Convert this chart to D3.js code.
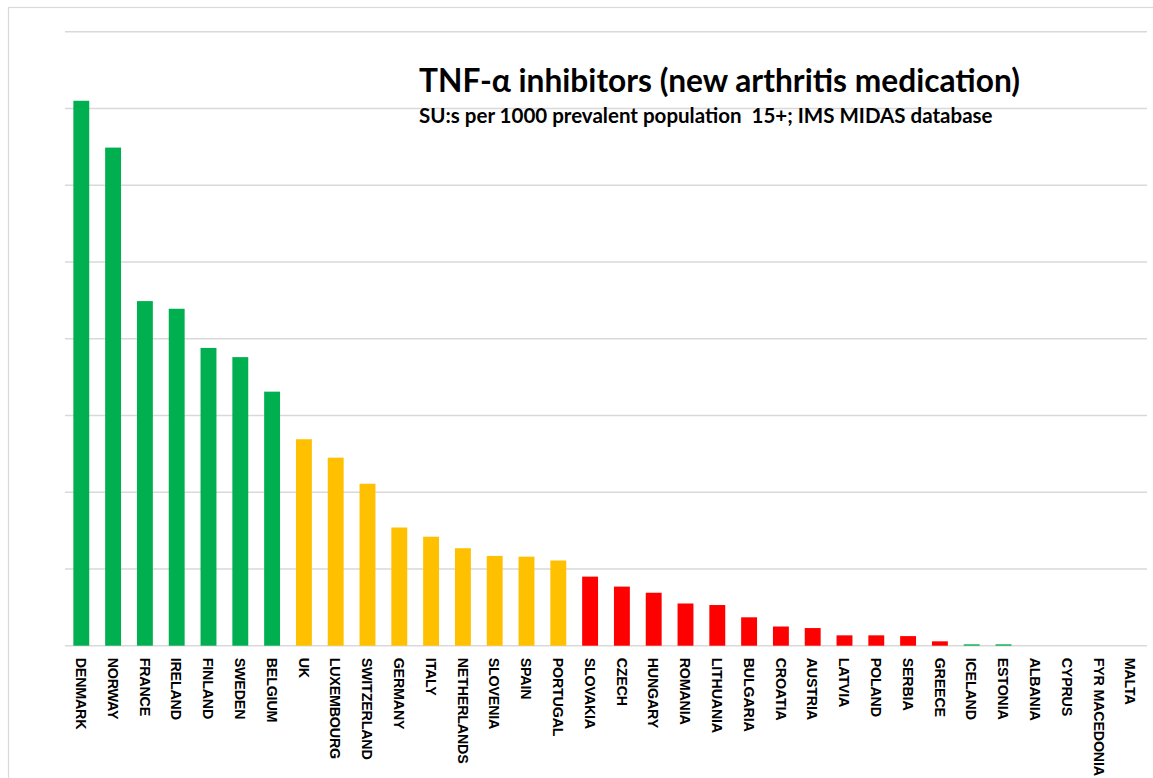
<!DOCTYPE html>
<html>
<head>
<meta charset="utf-8">
<script src="https://cdn.jsdelivr.net/npm/d3@7/dist/d3.min.js"></script>
<style>
  html, body { margin: 0; padding: 0; background: #fff; }
  svg { display: block; }
</style>
</head>
<body>
<script>
// ---- data ----
const countries = ["DENMARK","NORWAY","FRANCE","IRELAND","FINLAND","SWEDEN","BELGIUM",
  "UK","LUXEMBOURG","SWITZERLAND","GERMANY","ITALY","NETHERLANDS","SLOVENIA","SPAIN","PORTUGAL",
  "SLOVAKIA","CZECH","HUNGARY","ROMANIA","LITHUANIA","BULGARIA","CROATIA","AUSTRIA","LATVIA",
  "POLAND","SERBIA","GREECE","ICELAND","ESTONIA","ALBANIA","CYPRUS","FYR MACEDONIA","MALTA"];
const values = [7.10, 6.49, 4.49, 4.39, 3.88, 3.76, 3.31,
  2.69, 2.45, 2.11, 1.54, 1.42, 1.27, 1.17, 1.16, 1.11,
  0.90, 0.77, 0.69, 0.55, 0.53, 0.37, 0.25, 0.23, 0.135,
  0.135, 0.125, 0.057, 0.018, 0.018, 0, 0, 0, 0];
const groups = ["high","high","high","high","high","high","high",
  "mid","mid","mid","mid","mid","mid","mid","mid","mid",
  "low","low","low","low","low","low","low","low","low",
  "low","low","low","high","high","low","low","low","low"];
const gridTicks = [0,1,2,3,4,5,6,7,8];
const title = "TNF-\u03b1 inhibitors (new arthritis medication)";
const subtitle = "SU:s per 1000 prevalent population  15+; IMS MIDAS database";

const colors = { high: "#00B050", mid: "#FFC000", low: "#FF0000" };

const W = 1153, H = 778;
const svg = d3.select("body").append("svg").attr("width", W).attr("height", H);

// outer frame
svg.append("rect").attr("x", 8.5).attr("y", 7.5).attr("width", W + 20).attr("height", H + 20)
  .attr("fill", "none").attr("stroke", "#d9d9d9").attr("stroke-width", 1.2);

const x = d3.scaleBand().domain(countries).range([65.4, 1146.6]).paddingInner(0.5).paddingOuter(0.25);
const y = d3.scaleLinear().domain([0, 8]).range([645.7, 31.7]);

// gridlines
svg.append("g").selectAll("line").data(gridTicks).join("line")
  .attr("x1", 65).attr("x2", 1147)
  .attr("y1", d => y(d)).attr("y2", d => y(d))
  .attr("stroke", "#d9d9d9").attr("stroke-width", 1.4);

// bars
svg.append("g").selectAll("rect").data(countries).join("rect")
  .attr("x", d => x(d))
  .attr("width", x.bandwidth())
  .attr("y", (d, i) => y(values[i]))
  .attr("height", (d, i) => y(0) - y(values[i]))
  .attr("fill", (d, i) => colors[groups[i]]);

// category labels
const xAxis = d3.axisBottom(x).tickSize(0).tickPadding(0);
const gx = svg.append("g").attr("transform", `translate(0,${y(0)})`).call(xAxis);
gx.select(".domain").remove();
gx.selectAll("text")
  .attr("transform", "translate(0,12) rotate(90)")
  .attr("x", 0).attr("y", 0).attr("dy", "0.37em")
  .attr("text-anchor", "start")
  .style("font-family", "'Liberation Sans', Arial, sans-serif")
  .style("font-weight", "bold")
  .style("font-size", "14.3px")
  .style("letter-spacing", "-0.2px")
  .attr("fill", "#000");

// titles
function fitText(sel, target) {
  const len = sel.node().getComputedTextLength();
  const fs = parseFloat(sel.style("font-size"));
  sel.style("font-size", (fs * target / len).toFixed(2) + "px");
}
const t1 = svg.append("text").attr("x", 419).attr("y", 92).text(title)
  .style("font-family", "Lato, 'Open Sans', sans-serif").style("font-weight", "bold")
  .style("white-space", "pre")
  .style("font-size", "28px").attr("fill", "#000");
fitText(t1, 601);
const t2 = svg.append("text").attr("x", 419).attr("y", 123).text(subtitle)
  .style("font-family", "Lato, 'Open Sans', sans-serif").style("font-weight", "bold")
  .style("white-space", "pre")
  .style("font-size", "17px").attr("fill", "#000");
fitText(t2, 574);
</script>
</body>
</html>
